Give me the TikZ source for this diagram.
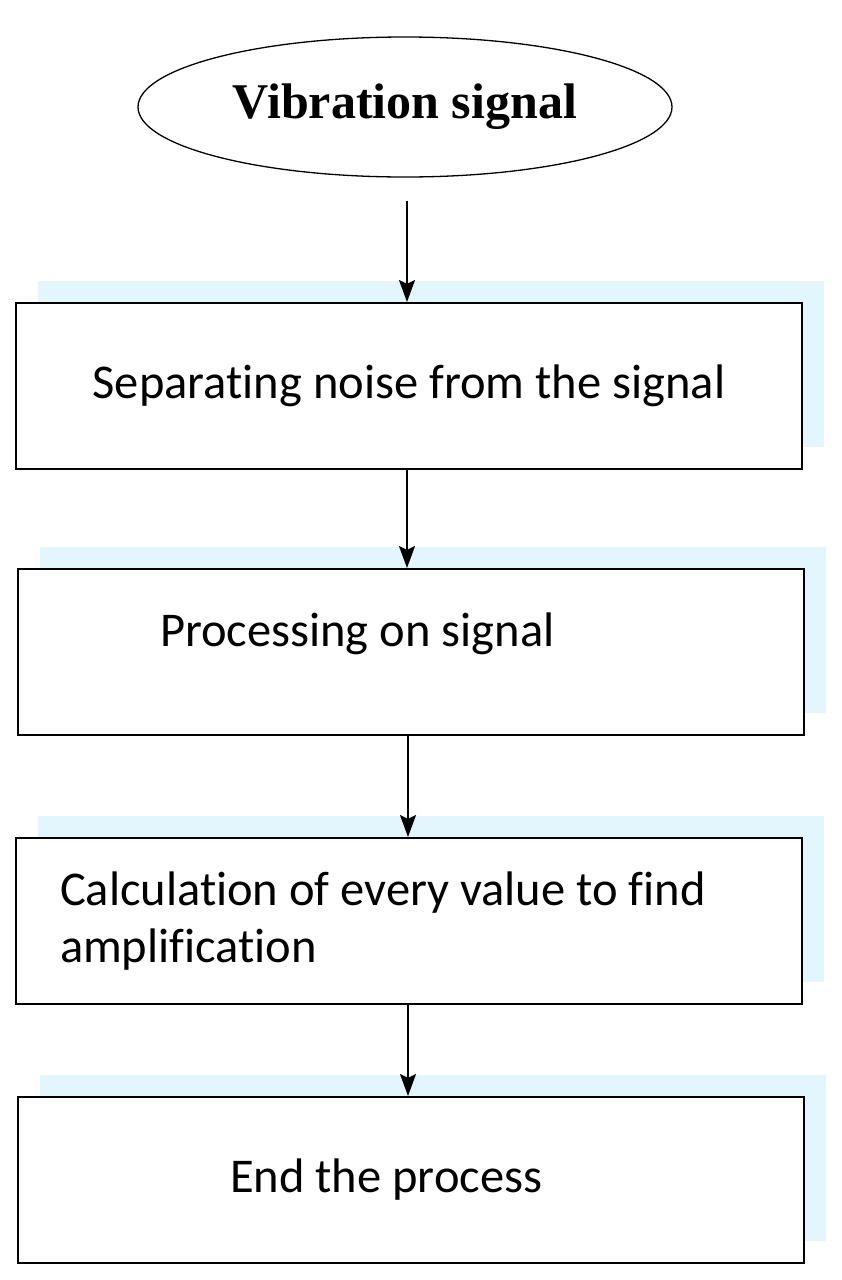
\documentclass[tikz,border=0pt]{standalone}
\usepackage{fontspec}
\setmainfont[Ligatures=NoCommon]{Carlito}
\newfontfamily\titlefont{Liberation Serif}
\usetikzlibrary{shapes.geometric,arrows.meta,shadows}

\tikzset{
  procbox/.style={draw,line width=2pt,fill=white,rectangle,minimum width=786pt,minimum height=166pt,
    font=\fontsize{48.5}{57}\selectfont,
    general shadow={fill=cyan!11,shadow xshift=22pt,shadow yshift=22pt}},
  flowarrow/.style={-{Stealth[length=22pt,width=16pt,inset=4pt]},line width=2pt}
}

\begin{document}
\begin{tikzpicture}[x=1pt,y=1pt]
      \useasboundingbox (0,0) rectangle (842,-1280);
      % start and the four steps
      \node[draw,ellipse,line width=1.3pt,minimum width=534pt,minimum height=140pt,
            font=\titlefont\bfseries\fontsize{50}{56}\selectfont] (sig) at (405,-107) {Vibration signal};
      \node[procbox,align=center] (sep) at (409,-386) {Separating noise from the signal};
      \node[procbox,align=flush left,text width=502pt,inner xsep=142pt,text depth=44pt] (proc) at (411,-652) {Processing on signal};
      \node[procbox,align=flush left,text width=698pt,inner xsep=44pt] (calc) at (409,-921) {Calculation of every value to find\\amplification};
      \node[procbox,align=flush left,text width=362pt,inner xsep=212pt] (fin) at (411,-1180) {End the process};

      % arrows between the steps
      \draw[flowarrow,shorten <=23pt] ([xshift=2pt]sig.south) -- ([xshift=2pt]sig.south |- sep.north);
      \draw[flowarrow] ([xshift=-2pt]sep.south) -- ([xshift=-2pt]sep.south |- proc.north);
      \draw[flowarrow] ([xshift=-3pt]proc.south) -- ([xshift=-3pt]proc.south |- calc.north);
      \draw[flowarrow] ([xshift=-1pt]calc.south) -- ([xshift=-1pt]calc.south |- fin.north);
    \end{tikzpicture}
\end{document}
